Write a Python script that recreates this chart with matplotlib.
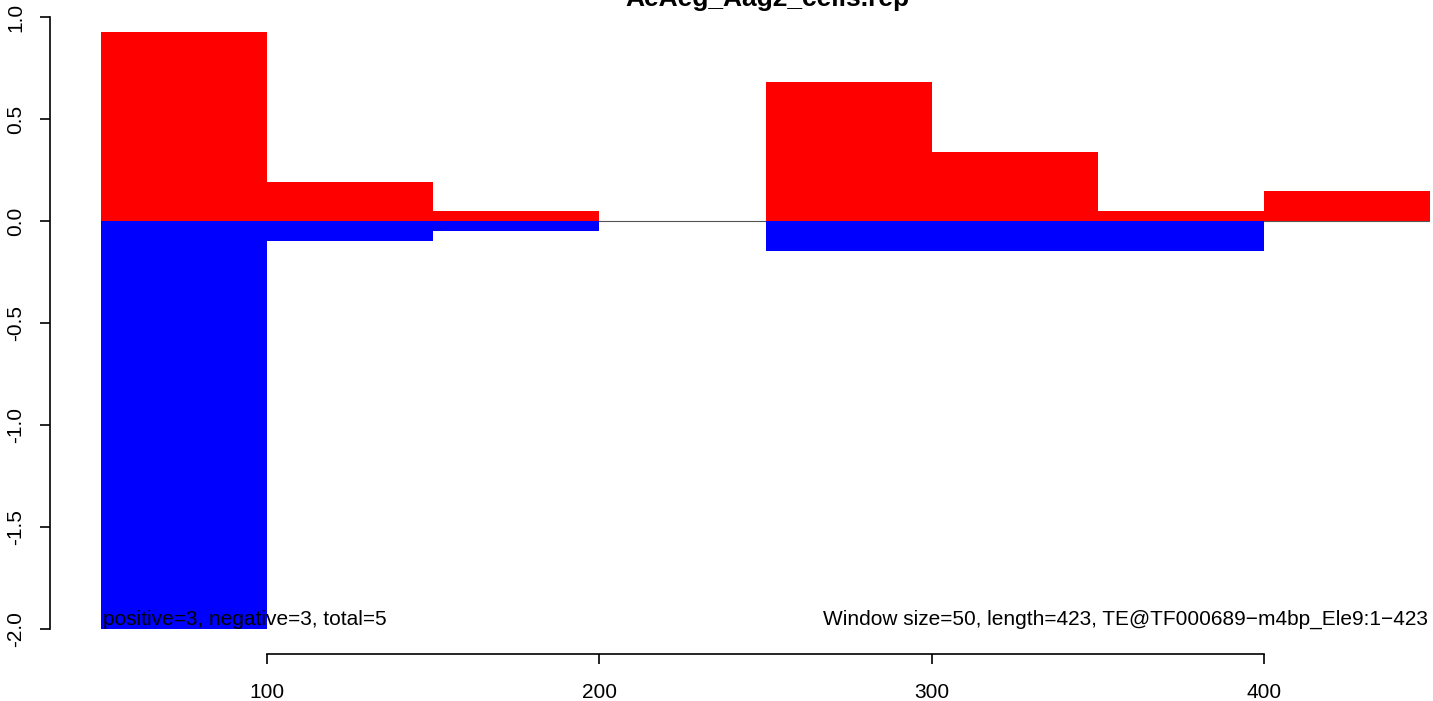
import matplotlib.pyplot as plt

plt.rcParams['font.family'] = ['Liberation Sans', 'DejaVu Sans']

# window starts (size 50) and the positive / negative values per window
win_start = [50, 100, 150, 200, 250, 300, 350, 400]
win_size = 50
pos_vals = [0.926, 0.19, 0.05, 0.0, 0.68, 0.34, 0.05, 0.147]
neg_vals = [-2.0, -0.098, -0.05, 0.0, -0.147, -0.147, -0.147, 0.0]

title = "AeAeg_Aag2_cells.rep"
left_note = "positive=3, negative=3, total=5"
right_note = "Window size=50, length=423, TE@TF000689\u2212m4bp_Ele9:1\u2212423"
xticks = [100, 200, 300, 400]
yticks = [-2.0, -1.5, -1.0, -0.5, 0.0, 0.5, 1.0]

W, H = 1433, 701
fig = plt.figure(figsize=(W / 100, H / 100), dpi=100)
ax = fig.add_axes([101 / W, (H - 629) / H, 1329 / W, 612 / H])

ax.axhline(0, color='#555555', lw=0.8, zorder=1)
ax.bar(win_start, pos_vals, width=win_size, align='edge', color='#ff0000', lw=0, zorder=2)
ax.bar(win_start, neg_vals, width=win_size, align='edge', color='#0000ff', lw=0, zorder=2)

ax.set_xlim(50, 450)
ax.set_ylim(-2, 1)

for s in ['top', 'right']:
    ax.spines[s].set_visible(False)
ax.spines['left'].set_position(('outward', 51 * 0.72))
ax.spines['bottom'].set_position(('outward', 25 * 0.72))
ax.spines['left'].set_bounds(-2, 1)
ax.spines['bottom'].set_bounds(100, 400)
for s in ['left', 'bottom']:
    ax.spines[s].set_linewidth(1.2)

ax.set_xticks(xticks)
ax.set_xticklabels([str(t) for t in xticks])
ax.set_yticks(yticks)
ax.set_yticklabels(['%.1f' % t for t in yticks], rotation=90, va='center')
ax.tick_params(axis='both', direction='out', length=7, width=1.2, labelsize=15)
ax.tick_params(axis='x', pad=14)
ax.tick_params(axis='y', pad=11)

ax.text(50.5, -2, left_note, ha='left', va='bottom', fontsize=15, zorder=3)
ax.text(449.5, -2, right_note, ha='right', va='bottom', fontsize=15, zorder=3)

fig.text(767 / W, 1 - 6 / H, title, ha='center', va='baseline', fontsize=19, fontweight='bold')

fig.savefig('out.png', dpi=100)
